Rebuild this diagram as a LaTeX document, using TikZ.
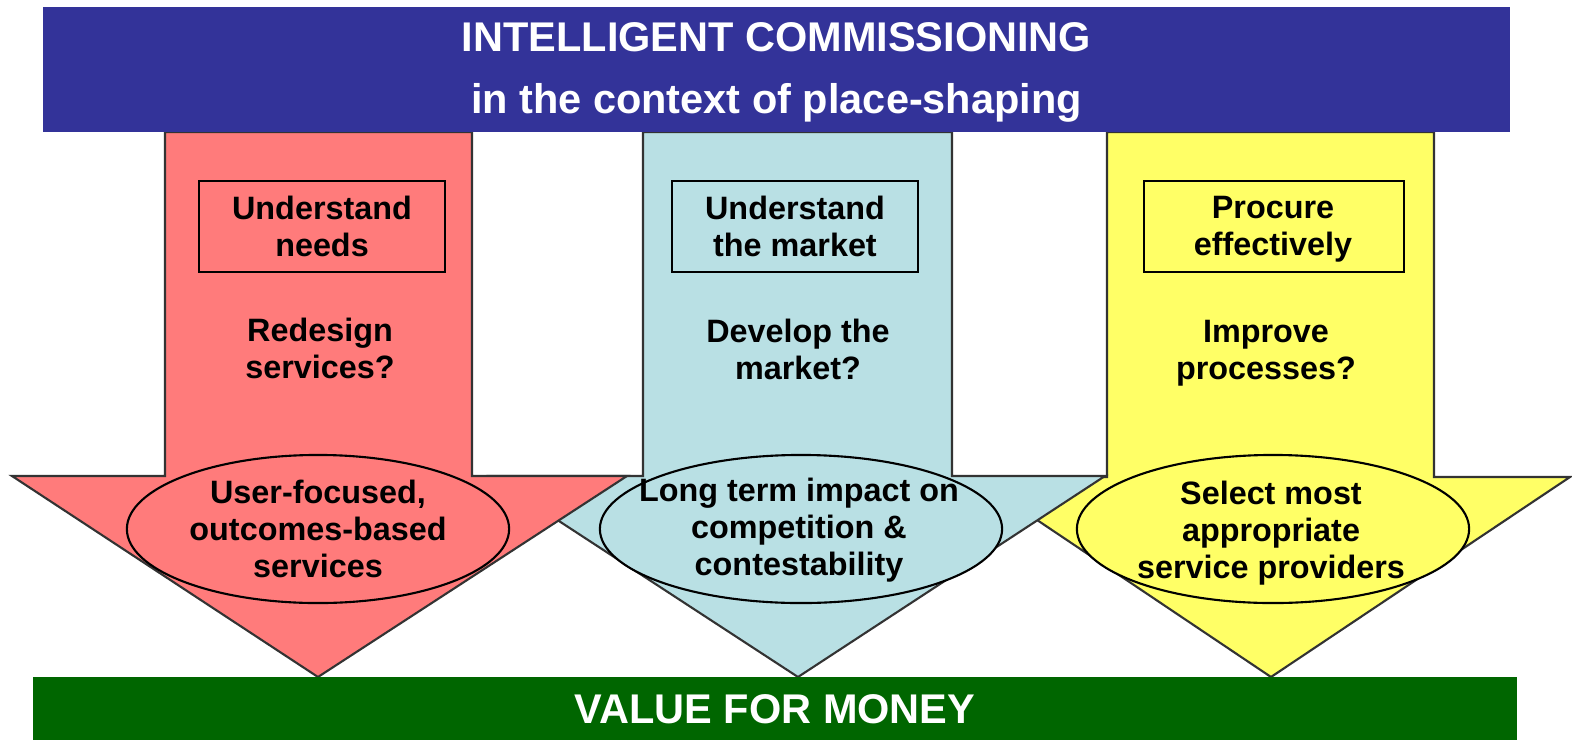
\documentclass[tikz,border=0pt]{standalone}
\usepackage{fontspec}
\setmainfont{Liberation Sans}
\usetikzlibrary{shapes.geometric}

\definecolor{bannerblue}{HTML}{333399}
\definecolor{vfmgreen}{HTML}{006600}
\definecolor{needsred}{HTML}{FF7B7B}
\definecolor{marketblue}{HTML}{B9E0E4}
\definecolor{procyellow}{HTML}{FFFF66}

\tikzset{
  banner/.style={rectangle, inner sep=0pt, text=white, align=center,
    font=\fontsize{11.8}{17.6}\selectfont\bfseries},
  stagebox/.style={rectangle, draw=black, line width=0.6pt, minimum height=0.91cm, inner sep=0pt},
  outcome/.style={ellipse, draw=black, line width=0.6pt, minimum height=1.48cm, inner sep=0pt},
  body/.style={font=\fontsize{9.2}{10.5}\selectfont\bfseries, align=center, inner sep=0pt},
  arrowedge/.style={draw=black!80, line width=0.6pt, line join=miter},
}

\begin{document}
\begin{tikzpicture}[x=0.01cm, y=-0.01cm]
        \useasboundingbox (0,0) rectangle (1572,739);

        % The three big downward arrows (yellow under blue under red)
        \filldraw[arrowedge, fill=procyellow] (1107,132) -- (1107,477) -- (973,477) -- (1271,677)
            -- (1570,477) -- (1434,477) -- (1434,132) -- cycle;
        \filldraw[arrowedge, fill=marketblue] (643,132) -- (643,476) -- (490,476) -- (798,677)
            -- (1105,476) -- (952,476) -- (952,132) -- cycle;
        \filldraw[arrowedge, fill=needsred] (165,132) -- (165,476) -- (12,476) -- (318,677)
            -- (627,476) -- (472,476) -- (472,132) -- cycle;

        % Top and bottom banners
        \node[banner, fill=bannerblue, minimum width=14.67cm, minimum height=1.25cm] (title) at (776.5,69.5) {};
        \node[banner] (title-txt) at (776.5,72.5)
            {INTELLIGENT COMMISSIONING\\in the context of place-shaping};
        \node[banner, fill=vfmgreen, minimum width=14.84cm, minimum height=0.64cm] (vfm) at (775,709)
            {VALUE FOR MONEY};

        % Boxed stage names
        \node[stagebox, body, minimum width=2.46cm] (needs) at (322,226.5) {Understand\\needs};
        \node[stagebox, body, minimum width=2.46cm] (market) at (795,226.5) {Understand\\the market};
        \node[stagebox, body, minimum width=2.60cm] (procure) at (1274,226.5) {};
        \node[body] (procure-txt) at (1273,229) {Procure\\effectively};

        % Questions in the arrow shafts
        \node[body] (redesign) at (320,348) {Redesign\\services?};
        \node[body] (develop) at (798,349) {Develop the\\market?};
        \node[body] (improve) at (1266,353) {Improve\\processes?};

        % Outcome ellipses on the arrow heads
        \node[outcome, fill=needsred, minimum width=3.82cm] (userfocus) at (318,529) {};
        \node[outcome, fill=marketblue, minimum width=4.02cm] (impact) at (801,529) {};
        \node[outcome, fill=procyellow, minimum width=3.92cm] (select) at (1273,529) {};
        \node[body] (userfocus-txt) at (318,529) {User-focused,\\outcomes-based\\services};
        \node[body] (impact-txt) at (799,530) {Long term impact on\\competition \&\\contestability};
        \node[body] (select-txt) at (1271,533) {Select most\\appropriate\\service providers};

    \end{tikzpicture}
\end{document}
